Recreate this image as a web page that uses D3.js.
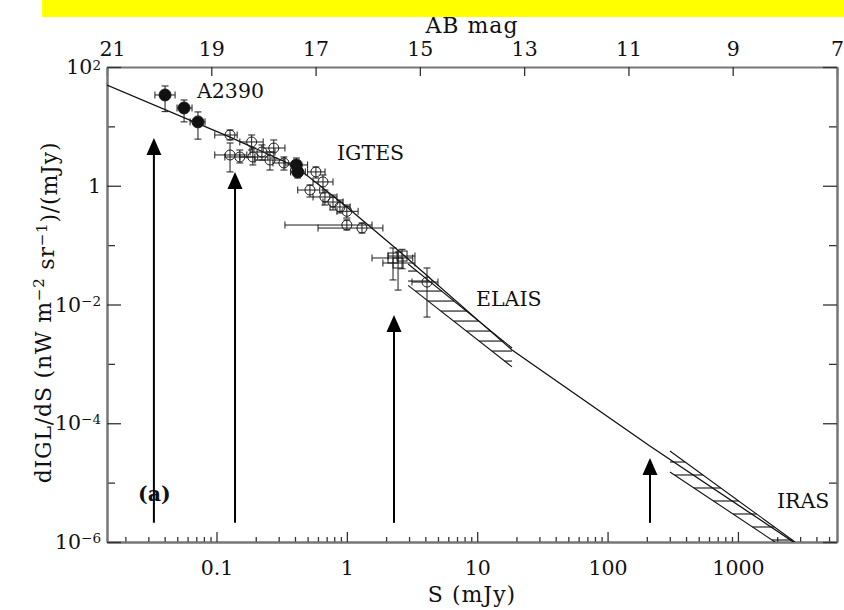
<!DOCTYPE html>
<html><head><meta charset="utf-8">
<script src="https://cdn.jsdelivr.net/npm/d3@7"></script>
<style>body{margin:0;background:#fff} svg{display:block}</style>
</head><body>
<svg id="c" width="844" height="610"></svg>
<script>
// ---------- data ----------
const xTickVals = [0.1, 1, 10, 100, 1000];
const xTickLabels = ["0.1", "1", "10", "100", "1000"];
const magTicks = [21, 19, 17, 15, 13, 11, 9, 7];
const yMajor = [1e2, 1, 1e-2, 1e-4, 1e-6];
const yMajorExp = ["2", "", "−2", "−4", "−6"];
const yMinor = [1e1, 1e-1, 1e-3, 1e-5];

// model curve
const lineS = [0.01445, 0.127, 0.41, 1.0, 2.56, 18.5, 211, 3000];
const lineV = [49.8, 6.6, 2.07, 0.44, 0.0766, 0.00171, 4.14e-5, 8.4e-7];

// A2390 (filled)
const a2390S   = [0.0403, 0.0564, 0.0721];
const a2390V   = [33.8, 20.4, 11.9];
const a2390SLo = [0.0337, 0.0498, 0.0627];
const a2390SHi = [0.0481, 0.0649, 0.0817];
const a2390VLo = [17.7, 11.9, 6.1];
const a2390VHi = [47.9, 27.8, 17.5];

// IGTES open circles
const igtesS   = [0.127, 0.127, 0.151, 0.186, 0.190, 0.223, 0.257, 0.275, 0.329, 0.521, 0.656, 0.679, 0.783, 0.885, 1.0, 1.0, 1.306, 0.579, 4.12];
const igtesV   = [7.16, 3.30, 3.05, 5.46, 3.05, 3.70, 2.71, 4.32, 2.42, 0.848, 1.16, 0.647, 0.532, 0.439, 0.371, 0.218, 0.194, 1.71, 0.0239];
const igtesSLo = [0.097, 0.097, 0.116, 0.151, 0.151, 0.181, 0.197, 0.228, 0.271, 0.42, 0.55, 0.55, 0.656, 0.743, 0.84, 0.335, 0.601, 0.50, 3.16];
const igtesSHi = [0.144, 0.171, 0.197, 0.228, 0.248, 0.281, 0.335, 0.335, 0.40, 0.62, 0.783, 0.84, 0.935, 1.06, 1.22, 1.56, 1.89, 0.68, 5.0];
const igtesVLo = [5.90, 1.71, 2.42, 4.00, 2.24, 2.71, 1.84, 2.93, 1.84, 0.647, 0.755, 0.474, 0.391, 0.348, 0.286, 0.18, 0.16, 1.35, 0.00615];
const igtesVHi = [8.69, 5.25, 4.00, 7.16, 4.32, 4.86, 3.70, 5.90, 3.05, 1.03, 1.52, 0.848, 0.698, 0.575, 0.474, 0.265, 0.236, 2.07, 0.0412];

// IGTES filled circles
const igtesFS   = [0.41, 0.42];
const igtesFV   = [2.24, 1.71];
const igtesFSLo = [0.335, 0.37];
const igtesFSHi = [0.50, 0.48];
const igtesFVLo = [1.52, 1.35];
const igtesFVHi = [2.93, 2.07];

// squares
const sqS   = [2.26, 2.47, 2.65];
const sqV   = [0.0607, 0.05, 0.0655];
const sqSLo = [1.56, 1.89, 2.07];
const sqSHi = [3.2, 3.33, 3.33];
const sqVLo = [0.0259, 0.0175, 0.04];
const sqVHi = [0.0895, 0.0766, 0.085];

// hatched bands
const elaisUpperS = [2.95, 18.5], elaisUpperV = [0.048, 0.00185];
const elaisLowerS = [2.95, 18.5], elaisLowerV = [0.021, 0.00089];
const irasUpperS = [301, 2740], irasUpperV = [3.41e-5, 1e-6];
const irasLowerS = [301, 1925], irasLowerV = [1.51e-5, 1e-6];

// arrows
const arrowS = [0.0331, 0.1387, 2.30, 211.5];
const arrowTipV = [6.37, 1.71, 6.65e-3, 2.6e-5];
const arrowBaseV = 2.1e-6;

// ---------- chart ----------
const svg = d3.select("#c");
const FONT = "DejaVu Serif";
const sOfMag = m => Math.pow(10, (16.4 - m) / 2.5);
const x = d3.scaleLog().domain([sOfMag(21), sOfMag(7)]).range([107, 837]);
const mag = d3.scaleLinear().domain([21, 7]).range([107, 837]);
const y = d3.scaleLog().domain([1e-6, 1e2]).range([542, 67]);
const X0 = 107, X1 = 837, Y0 = 67, Y1 = 542;

svg.append("rect").attr("x", 42).attr("y", 0).attr("width", 802).attr("height", 17).attr("fill", "#ffff00");

svg.append("defs").append("clipPath").attr("id", "clip")
  .append("rect").attr("x", X0).attr("y", Y0).attr("width", X1 - X0).attr("height", Y1 - Y0);

function styleAxis(g) {
  g.attr("font-family", FONT).attr("font-size", 20.5);
  g.select(".domain").attr("stroke", "#777").attr("stroke-width", 2);
  g.selectAll(".tick line").attr("stroke", "#333").attr("stroke-width", 1.3);
  g.selectAll(".tick text").attr("fill", "#111");
}

// bottom
const minorX = [];
for (let d = -2; d <= 3; d++) for (let k = 2; k <= 9; k++) {
  const v = k * Math.pow(10, d);
  if (v > x.domain()[0] && v < x.domain()[1]) minorX.push(v);
}
svg.append("g").attr("transform", `translate(0,${Y1})`)
  .call(d3.axisBottom(x).tickValues(minorX).tickFormat(() => "").tickSizeInner(-5).tickSizeOuter(0))
  .call(styleAxis);
svg.append("g").attr("transform", `translate(0,${Y1})`)
  .call(d3.axisBottom(x).tickValues(xTickVals).tickFormat((d, i) => xTickLabels[i]).tickSizeInner(-10).tickSizeOuter(0).tickPadding(18))
  .call(styleAxis);

// top
const gt = svg.append("g").attr("transform", `translate(0,${Y0})`)
  .call(d3.axisTop(mag).tickValues(magTicks).tickFormat(d3.format("d")).tickSizeInner(-9).tickSizeOuter(0).tickPadding(11))
  .call(styleAxis);
gt.selectAll(".tick text").filter(d => d === 21).attr("dx", 5);

// left
svg.append("g").attr("transform", `translate(${X0},0)`)
  .call(d3.axisLeft(y).tickValues(yMinor).tickFormat(() => "").tickSizeInner(-8).tickSizeOuter(0))
  .call(styleAxis);
const gl = svg.append("g").attr("transform", `translate(${X0},0)`)
  .call(d3.axisLeft(y).tickValues(yMajor).tickFormat(() => "").tickSizeInner(-14).tickSizeOuter(0).tickPadding(6))
  .call(styleAxis);
gl.selectAll(".tick text").each(function (d, i) {
  const t = d3.select(this);
  if (yMajorExp[i] === "") { t.text("1"); return; }
  t.append("tspan").text("10");
  t.append("tspan").attr("dy", i === 0 ? "-0.3em" : "-0.45em").attr("font-size", 13.5).text(yMajorExp[i]);
});

// right
svg.append("g").attr("transform", `translate(${X1},0)`)
  .call(d3.axisRight(y).tickValues(yMinor).tickFormat(() => "").tickSizeInner(-8).tickSizeOuter(0))
  .call(styleAxis);
svg.append("g").attr("transform", `translate(${X1},0)`)
  .call(d3.axisRight(y).tickValues(yMajor).tickFormat(() => "").tickSizeInner(-14).tickSizeOuter(0))
  .call(styleAxis);

// axis titles
svg.append("text").attr("x", (X0 + X1) / 2).attr("y", 33).attr("text-anchor", "middle")
  .attr("font-family", FONT).attr("font-size", 22).attr("letter-spacing", 1).attr("fill", "#111").text("AB mag");
svg.append("text").attr("x", (X0 + X1) / 2).attr("y", 602).attr("text-anchor", "middle")
  .attr("font-family", FONT).attr("font-size", 22).attr("letter-spacing", 1).attr("fill", "#111").text("S (mJy)");
const yt = svg.append("text").attr("transform", `translate(51,${(Y0 + Y1) / 2 + 8}) rotate(-90)`)
  .attr("text-anchor", "middle").attr("font-family", FONT).attr("font-size", 22)
  .attr("letter-spacing", 0.8).attr("fill", "#111");
yt.append("tspan").text("dIGL/dS (nW m");
yt.append("tspan").attr("dy", "-0.45em").attr("font-size", 15).text("−2");
yt.append("tspan").attr("dy", "0.45em").text(" sr");
yt.append("tspan").attr("dy", "-0.45em").attr("font-size", 15).text("−1");
yt.append("tspan").attr("dy", "0.45em").text(")/(mJy)");

const plot = svg.append("g");
const clipped = plot.append("g").attr("clip-path", "url(#clip)");

// model curve
const line = d3.line().x(d => x(d[0])).y(d => y(d[1]));
clipped.append("path").datum(lineS.map((s, i) => [s, lineV[i]]))
  .attr("d", line).attr("fill", "none").attr("stroke", "#111").attr("stroke-width", 1.3);

// hatched bands
function band(uS, uV, lS, lV, step, start) {
  const g = clipped.append("g").attr("stroke", "#111").attr("stroke-width", 1.1).attr("fill", "none");
  const up = uS.map((s, i) => [x(s), y(uV[i])]);
  const lo = lS.map((s, i) => [x(s), y(lV[i])]);
  g.append("line").attr("x1", up[0][0]).attr("y1", up[0][1]).attr("x2", up[1][0]).attr("y2", up[1][1]);
  g.append("line").attr("x1", lo[0][0]).attr("y1", lo[0][1]).attr("x2", lo[1][0]).attr("y2", lo[1][1]);
  const xl = Math.min(up[0][0], lo[0][0]), xr = Math.max(up[1][0], lo[1][0]);
  const at = (p, yy) => p[0][0] + (yy - p[0][1]) / (p[1][1] - p[0][1]) * (p[1][0] - p[0][0]);
  for (let yy = up[0][1] + start; yy < lo[1][1]; yy += step) {
    const a = yy < lo[0][1] ? xl : at(lo, yy);
    const b = yy > up[1][1] ? xr : at(up, yy);
    if (b > a) g.append("line").attr("x1", a).attr("y1", yy).attr("x2", b).attr("y2", yy);
  }
}
band(elaisUpperS, elaisUpperV, elaisLowerS, elaisLowerV, 10, 7);
band(irasUpperS, irasUpperV, irasLowerS, irasLowerV, 13, 11);

// error bars & markers
function series(S, V, SLo, SHi, VLo, VHi, shape) {
  const g = plot.append("g").attr("stroke", "#1a1a1a").attr("stroke-width", 1);
  const cap = 3.5;
  S.forEach((s, i) => {
    const cx = x(s), cy = y(V[i]);
    const xa = x(SLo[i]), xb = x(SHi[i]), ya = y(VHi[i]), yb = y(VLo[i]);
    g.append("line").attr("x1", xa).attr("y1", cy).attr("x2", xb).attr("y2", cy);
    g.append("line").attr("x1", xa).attr("y1", cy - cap).attr("x2", xa).attr("y2", cy + cap);
    g.append("line").attr("x1", xb).attr("y1", cy - cap).attr("x2", xb).attr("y2", cy + cap);
    g.append("line").attr("x1", cx).attr("y1", ya).attr("x2", cx).attr("y2", yb);
    g.append("line").attr("x1", cx - cap).attr("y1", ya).attr("x2", cx + cap).attr("y2", ya);
    g.append("line").attr("x1", cx - cap).attr("y1", yb).attr("x2", cx + cap).attr("y2", yb);
    if (shape === "filled") g.append("circle").attr("cx", cx).attr("cy", cy).attr("r", 6).attr("fill", "#111");
    else if (shape === "open") g.append("circle").attr("cx", cx).attr("cy", cy).attr("r", 5).attr("fill", "none");
    else g.append("rect").attr("x", cx - 5).attr("y", cy - 5).attr("width", 10).attr("height", 10).attr("fill", "none");
  });
}
series(igtesS, igtesV, igtesSLo, igtesSHi, igtesVLo, igtesVHi, "open");
series(sqS, sqV, sqSLo, sqSHi, sqVLo, sqVHi, "square");
series(igtesFS, igtesFV, igtesFSLo, igtesFSHi, igtesFVLo, igtesFVHi, "filled");
series(a2390S, a2390V, a2390SLo, a2390SHi, a2390VLo, a2390VHi, "filled");

// arrows
const ga = plot.append("g");
arrowS.forEach((s, i) => {
  const ax = x(s), ty = y(arrowTipV[i]), by = y(arrowBaseV);
  ga.append("line").attr("x1", ax).attr("y1", by).attr("x2", ax).attr("y2", ty + 14)
    .attr("stroke", "#000").attr("stroke-width", 2);
  ga.append("path").attr("d", `M${ax},${ty} L${ax - 7.5},${ty + 17} L${ax + 7.5},${ty + 17} Z`).attr("fill", "#000");
});

// labels
const lab = (t, s, v, bold) => plot.append("text").attr("x", x(s)).attr("y", y(v))
  .attr("font-family", FONT).attr("font-size", 20.5).attr("fill", "#111")
  .attr("font-weight", bold ? "bold" : "normal").text(t);
lab("A2390", 0.0709, 30.1);
lab("IGTES", 0.84, 2.71);
lab("ELAIS", 9.79, 9.4e-3);
lab("IRAS", 1993, 3.74e-6);
lab("(a)", 0.025, 4.9e-6, true);
</script>
</body></html>
